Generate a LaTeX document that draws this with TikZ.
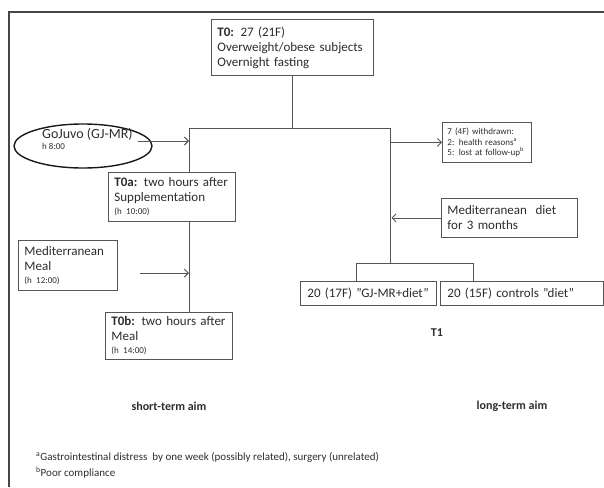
\documentclass[tikz,border=0pt]{standalone}
\usepackage{fontspec}
\setmainfont{Carlito}
\usetikzlibrary{arrows.meta,shapes.geometric}
\definecolor{linec}{RGB}{85,85,85}
\definecolor{textc}{RGB}{45,45,45}
\definecolor{framec}{RGB}{70,70,70}
\begin{document}
\begin{tikzpicture}[x=1pt,y=-1pt,
  box/.style={draw=linec, line width=0.9pt, fill=white, rectangle, inner xsep=6pt, inner ysep=0pt,
    align=left, anchor=north west, text=textc, font=\fontsize{13}{15}\selectfont},
  smallbox/.style={box, inner xsep=5pt, font=\fontsize{9}{10.5}\selectfont},
  conn/.style={draw=linec, line width=0.9pt},
  arr/.style={conn, -{Straight Barb[length=4pt,width=8pt]}},
  lbl/.style={text=textc, inner sep=0pt}]
\useasboundingbox (0,0) rectangle (604,487);
% outer frame
\draw[framec, line width=1.3pt] (9,487) -- (9,12) -- (604,12);

% boxes
\node[box, text width=150pt, minimum height=56pt] (t0) at (211,19)
  {\textbf{T0:} 27 (21F)\\Overweight/obese subjects\\Overnight fasting};
\node[smallbox, text width=79pt, minimum height=40pt] (wd) at (442,122)
  {7 (4F) withdrawn:\\2: health reasons\textsuperscript{a}\\5: lost at follow-up\textsuperscript{b}};
\node[box, text width=115pt, minimum height=49pt] (t0a) at (108,172)
  {\textbf{T0a:} two hours after\\Supplementation\\[-2pt]{\fontsize{9}{11}\selectfont (h 10:00)}};
\node[box, text width=124pt, minimum height=39pt] (diet) at (441,198)
  {Mediterranean~ diet\\for 3 months};
\node[box, text width=87pt, minimum height=50pt] (meal) at (18,240)
  {Mediterranean\\Meal\\[-2pt]{\fontsize{9}{11}\selectfont (h 12:00)}};
\node[box, inner xsep=7pt, text width=122pt, minimum height=24pt] (ga) at (300,281)
  {20 (17F) ”GJ-MR+diet”};
\node[box, inner xsep=7pt, text width=149pt, minimum height=24pt] (gb) at (440,281)
  {20 (15F) controls ”diet”};
\node[box, text width=115pt, minimum height=47pt] (t0b) at (105,312)
  {\textbf{T0b:} two hours after\\Meal\\[-2pt]{\fontsize{9}{11}\selectfont (h 14:00)}};

% ellipse
\node[draw=black!90, line width=1.4pt, ellipse, minimum width=138pt, minimum height=44pt, inner sep=0pt] (gj) at (83,146) {};
\node[lbl, anchor=north west, align=left] (gjt) at (42,128)
  {\fontsize{14}{14}\selectfont GoJuvo (GJ-MR)\\[-1pt]{\fontsize{9}{11}\selectfont h 8:00}};

% coordinates
\coordinate (barL) at (189,128);
\coordinate (barR) at (390,128);
\coordinate (b2L) at (356,263);
\coordinate (b2R) at (473,263);
\coordinate (b2M) at (390,263);
\coordinate (gjout) at (138,141);
\coordinate (mealout) at (140,273);

% connectors
\draw[conn] (t0.south) -- (t0.south |- barL);
\draw[conn] (barL) -- (barR);
\draw[conn] (barL) -- (barL |- t0a.north);
\draw[conn] (t0a.south -| barL) -- (t0b.north -| barL);
\draw[conn] (barR) -- (b2M);
\draw[conn] (b2L) -- (b2R);
\draw[conn] (b2L) -- (b2L |- ga.north);
\draw[conn] (b2R) -- (b2R |- gb.north);
\draw[arr] (gjout) -- (gjout -| barL);
\draw[arr] (barR |- wd.west) -- (wd.west);
\draw[arr, shorten >=1.5pt] (diet.west) -- (diet.west -| barR);
\draw[arr] (mealout) -- (mealout -| barL);

% labels
\node[lbl, font=\fontsize{12}{14}\selectfont\bfseries] (t1) at (437,333) {T1};
\node[lbl, font=\fontsize{12}{14}\selectfont\bfseries] (st) at (169,406) {short-term aim};
\node[lbl, font=\fontsize{12}{14}\selectfont\bfseries] (lt) at (512,406) {long-term aim};
\node[lbl, anchor=west, font=\fontsize{11}{13}\selectfont] (fa) at (36,457)
  {\textsuperscript{a}Gastrointestinal distress~ by one week (possibly related), surgery (unrelated)};
\node[lbl, anchor=west, font=\fontsize{11}{13}\selectfont] (fb) at (36,473)
  {\textsuperscript{b}Poor compliance};
\end{tikzpicture}
\end{document}
